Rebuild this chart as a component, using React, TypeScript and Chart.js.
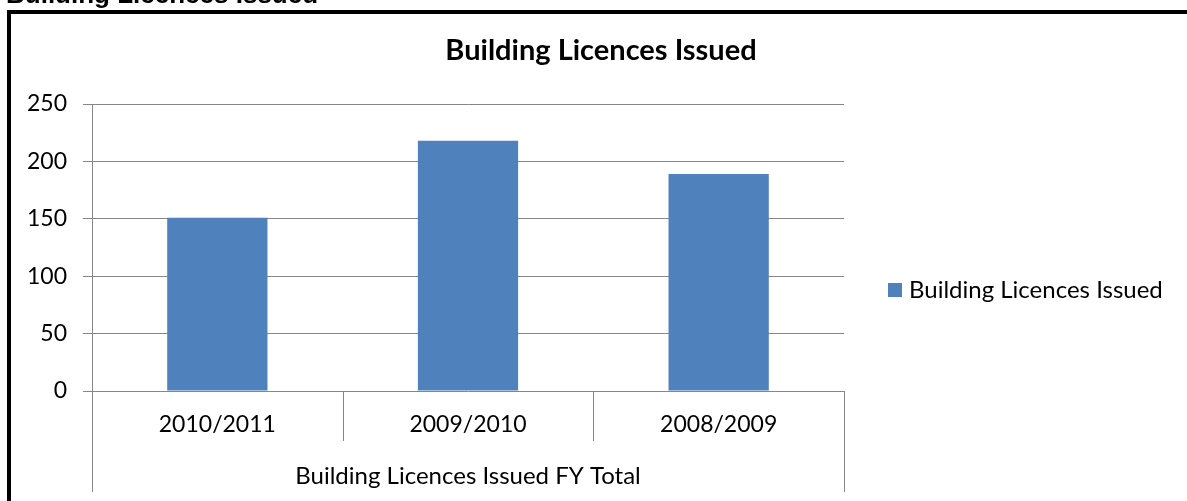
import React, { useEffect, useRef } from "react";
import { Chart, registerables } from "chart.js";

Chart.register(...registerables);

const pageHeading = "Building Licences Issued";
const chartTitle = "Building Licences Issued";
const seriesName = "Building Licences Issued";
const groupLabel = "Building Licences Issued FY Total";
const categories = ["2010/2011", "2009/2010", "2008/2009"];
const values = [151, 218, 189];
const yTicks = [0, 50, 100, 150, 200, 250];

const BAR = "#4F81BD";
const GRID = "#868686";
const FONT = "Lato, 'Noto Sans', sans-serif";

const decorPlugin = {
  id: "decor",
  afterDraw(chart: any) {
    const { ctx, chartArea } = chart;
    const xs = chart.scales.x;
    ctx.save();
    // category separators (multi-level axis)
    ctx.strokeStyle = GRID;
    ctx.lineWidth = 1;
    const n = categories.length;
    for (let i = 0; i <= n; i++) {
      const x = Math.round(xs.getPixelForValue(i - 0.5)) + 0.5;
      const outer = i === 0 || i === n;
      ctx.beginPath();
      ctx.moveTo(x, chartArea.bottom);
      ctx.lineTo(x, chartArea.bottom + (outer ? 101 : 50));
      ctx.stroke();
    }
    // outer frame
    ctx.strokeStyle = "#000";
    ctx.lineWidth = 4;
    ctx.beginPath();
    ctx.moveTo(9, 520);
    ctx.lineTo(9, 12);
    ctx.lineTo(1200, 12);
    ctx.stroke();
    // page heading (cut off at top)
    ctx.fillStyle = "#000";
    ctx.font = "bold 26px 'Liberation Sans', Arial, sans-serif";
    ctx.textAlign = "left";
    ctx.textBaseline = "alphabetic";
    ctx.fillText(pageHeading, 6, 2.5);
    // chart title
    ctx.font = `bold 29px ${FONT}`;
    ctx.textAlign = "center";
    ctx.fillText(chartTitle, 601, 60);
    // legend
    const lx = chartArea.right + 44;
    const ly = 290;
    ctx.fillStyle = BAR;
    ctx.fillRect(lx, ly - 7, 14, 14);
    ctx.fillStyle = "#000";
    ctx.font = `24px ${FONT}`;
    ctx.textAlign = "left";
    ctx.textBaseline = "middle";
    ctx.fillText(seriesName, lx + 21, ly);
    ctx.restore();
  },
};

export default function App() {
  const ref = useRef<HTMLCanvasElement>(null);
  useEffect(() => {
    if (!ref.current) return;
    const chart = new Chart(ref.current, {
      type: "bar",
      data: {
        labels: categories,
        datasets: [
          {
            label: seriesName,
            data: values,
            backgroundColor: BAR,
            borderWidth: 0,
            barPercentage: 0.4,
            categoryPercentage: 1,
          },
        ],
      },
      options: {
        animation: false,
        responsive: false,
        maintainAspectRatio: false,
        devicePixelRatio: 1,
        layout: { padding: { top: 104, right: 343, left: 0, bottom: 0 } },
        plugins: {
          legend: { display: false },
          title: { display: false },
          tooltip: { enabled: false },
        },
        scales: {
          x: {
            offset: true,
            grid: { display: false, drawTicks: false },
            border: { display: false },
            ticks: {
              color: "#000",
              font: { family: FONT, size: 23 },
              padding: 20,
              maxRotation: 0,
              autoSkip: false,
            },
            title: {
              display: true,
              text: groupLabel,
              color: "#000",
              font: { family: FONT, size: 24 },
              padding: { top: 0, bottom: 10 },
            },
            afterFit(scale: any) {
              scale.height = 110;
            },
          },
          y: {
            min: 0,
            max: 250,
            afterBuildTicks(scale: any) {
              scale.ticks = yTicks.map((v) => ({ value: v }));
            },
            grid: { color: GRID, lineWidth: 1, tickLength: 9, drawTicks: true },
            border: { display: true, color: GRID, width: 1 },
            ticks: {
              color: "#000",
              font: { family: FONT, size: 23 },
              padding: 16,
            },
            afterFit(scale: any) {
              scale.width = 92;
            },
          },
        },
      },
      plugins: [decorPlugin],
    });
    return () => chart.destroy();
  }, []);
  return (
    <div style={{ position: "absolute", left: 0, top: 0, width: 1187, height: 501, background: "#fff" }}>
      <canvas ref={ref} width={1187} height={501} style={{ display: "block" }} />
    </div>
  );
}
